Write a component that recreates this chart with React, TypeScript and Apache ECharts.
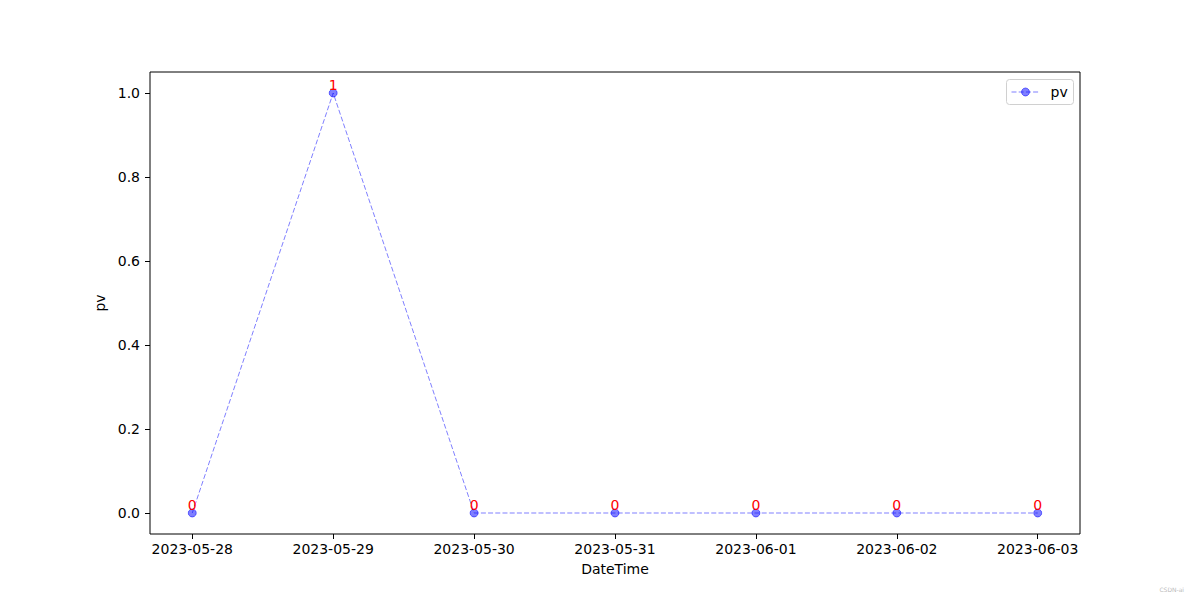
import React, { useEffect, useRef } from "react";
import * as echarts from "echarts";

const dates = ["2023-05-28", "2023-05-29", "2023-05-30", "2023-05-31", "2023-06-01", "2023-06-02", "2023-06-03"];
const pv = [0, 1, 0, 0, 0, 0, 0];
const yTickValues = [0, 0.2, 0.4, 0.6, 0.8, 1.0];

const FONT = "DejaVu Sans";
const BLUE = "rgba(0,0,255,0.5)";

export default function App() {
  const ref = useRef<HTMLDivElement>(null);
  useEffect(() => {
    const chart = echarts.init(ref.current!, null, { renderer: "svg" });
    const xIdx = dates.map((_, i) => i);
    const n = dates.length - 1;
    const xPad = n * 0.05;
    const yMin = Math.min(...pv);
    const yMax = Math.max(...pv);
    const yPad = (yMax - yMin) * 0.05;
    chart.setOption({
      animation: false,
      backgroundColor: "#ffffff",
      textStyle: { fontFamily: FONT },
      grid: {
        left: 150,
        right: 120,
        top: 72,
        bottom: 66,
        show: true,
        borderColor: "#000",
        borderWidth: 1,
        backgroundColor: "transparent",
      },
      xAxis: {
        type: "value",
        min: -xPad,
        max: n + xPad,
        name: "DateTime",
        nameLocation: "middle",
        nameGap: 28,
        nameTextStyle: { fontFamily: FONT, fontSize: 14, color: "#000" },
        axisLine: { show: false, onZero: false },
        axisTick: { show: true, length: 5, inside: false, lineStyle: { color: "#000" }, customValues: xIdx },
        axisLabel: {
          fontFamily: FONT,
          fontSize: 14,
          color: "#000",
          margin: 8,
          customValues: xIdx,
          formatter: (v: number) => dates[Math.round(v)] ?? "",
        },
        splitLine: { show: false },
      },
      yAxis: {
        type: "value",
        min: yMin - yPad,
        max: yMax + yPad,
        name: "pv",
        nameLocation: "middle",
        nameGap: 37,
        nameRotate: 90,
        nameTextStyle: { fontFamily: FONT, fontSize: 14, color: "#000" },
        axisLine: { show: false, onZero: false },
        axisTick: { show: true, length: 5, lineStyle: { color: "#000" }, customValues: yTickValues },
        axisLabel: {
          fontFamily: FONT,
          fontSize: 14,
          color: "#000",
          margin: 10,
          customValues: yTickValues,
          formatter: (v: number) => v.toFixed(1),
        },
        splitLine: { show: false },
      },
      series: [
        {
          name: "pv",
          type: "line",
          data: pv.map((v, i) => [i, v]),
          symbol: "circle",
          symbolSize: 8,
          itemStyle: { color: BLUE, borderColor: BLUE, borderWidth: 1 },
          lineStyle: { color: BLUE, width: 1, type: [5, 2.2] },
          label: {
            show: true,
            position: "top",
            distance: -3,
            color: "#ff0000",
            fontFamily: FONT,
            fontSize: 14,
            formatter: (p: any) => String(p.value[1]),
          },
        },
      ],
      graphic: [
        {
          type: "group",
          left: 1006,
          top: 79,
          children: [
            {
              type: "rect",
              shape: { x: 0, y: 0, width: 67, height: 25, r: 3 },
              style: { fill: "rgba(255,255,255,0.8)", stroke: "#d0d0d0", lineWidth: 1 },
            },
            {
              type: "line",
              shape: { x1: 5, y1: 12.5, x2: 33, y2: 12.5 },
              style: { stroke: BLUE, lineWidth: 1, lineDash: [5, 2.2] },
            },
            {
              type: "circle",
              shape: { cx: 19, cy: 12.5, r: 4 },
              style: { fill: BLUE, stroke: BLUE, lineWidth: 1 },
            },
            {
              type: "text",
              x: 44,
              y: 12.5,
              style: { text: "pv", fontSize: 14, fontFamily: FONT, fill: "#000", verticalAlign: "middle" },
            },
          ],
        },
        {
          type: "text",
          right: 16,
          bottom: 8,
          style: { text: "CSDN-ai", fontSize: 6, fill: "#bbb", fontFamily: FONT },
        },
      ],
    });
    return () => chart.dispose();
  }, []);
  return <div ref={ref} style={{ width: 1200, height: 600, margin: -8 }} />;
}
